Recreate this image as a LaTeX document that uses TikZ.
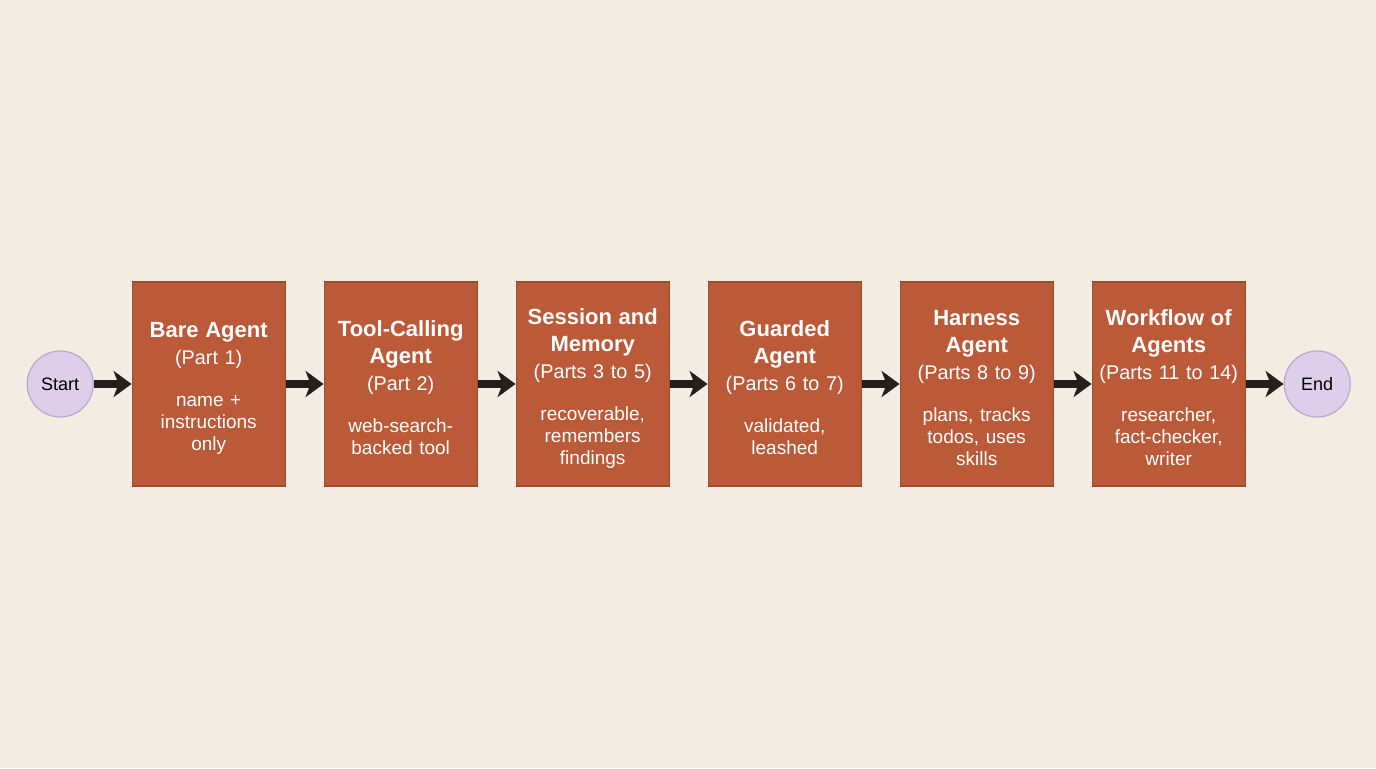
\documentclass[tikz,border=0pt]{standalone}
\usepackage{fontspec}
\setmainfont{Liberation Sans}[WordSpace=0.8]
\usetikzlibrary{positioning}
\usetikzlibrary{arrows.meta}
\definecolor{bgcol}{HTML}{F2EDE2}
\definecolor{boxcol}{HTML}{BB5A39}
\definecolor{boxline}{HTML}{A04B2F}
\definecolor{termcol}{HTML}{DDCEEA}
\definecolor{termline}{HTML}{BAA7D0}
\definecolor{arrcol}{HTML}{231F1B}
\tikzset{
stage/.style={draw=boxline, fill=boxcol, line width=0.6pt, minimum width=76.5pt, minimum height=102pt, text width=74pt, text=white, align=center, inner sep=1pt},
term/.style={circle, draw=termline, fill=termcol, line width=0.6pt, minimum size=33pt, inner sep=0pt, font=\fontsize{9}{11}\selectfont},
flow/.style={-{Stealth[length=9pt,width=13pt,inset=2.5pt]}, line width=3.8pt, draw=arrcol},
}
\newcommand{\stagelabel}[3]{%
{\fontsize{11}{13.5}\selectfont\bfseries #1\par}
{\fontsize{9.9}{13.5}\selectfont #2\par}
\vspace{10pt}
{\fontsize{9.5}{11}\selectfont #3\par}
\vspace{-4pt}}

\begin{document}
\begin{tikzpicture}[node distance=18.9pt]
\fill[bgcol] (0,0) rectangle (688pt,384pt);
\useasboundingbox (0,0) rectangle (688pt,384pt);
\node[term] (start) at (30.1pt,192pt) {Start};
\node[stage, right=of start] (bare) {\stagelabel{Bare Agent}{(Part 1)}{name +\\ instructions\\ only}};
\node[stage, right=of bare] (tool) {\stagelabel{Tool-Calling\\ Agent}{(Part 2)}{web-search-\\ backed tool}};
\node[stage, right=of tool] (session) {\stagelabel{Session and\\ Memory}{(Parts 3 to 5)}{recoverable,\\ remembers\\ findings}};
\node[stage, right=of session] (guard) {\stagelabel{Guarded\\ Agent}{(Parts 6 to 7)}{validated,\\ leashed}};
\node[stage, right=of guard] (harness) {\stagelabel{Harness\\ Agent}{(Parts 8 to 9)}{plans, tracks\\ todos, uses\\ skills}};
\node[stage, right=of harness] (workflow) {\stagelabel{Workflow of\\ Agents}{(Parts 11 to 14)}{researcher,\\ fact-checker,\\ writer}};
\node[term, right=of workflow] (end) {End};
\foreach \a/\b in {start/bare,bare/tool,tool/session,session/guard,guard/harness,harness/workflow,workflow/end}{
\draw[flow] (\a) -- (\b);
}
\end{tikzpicture}
\end{document}
